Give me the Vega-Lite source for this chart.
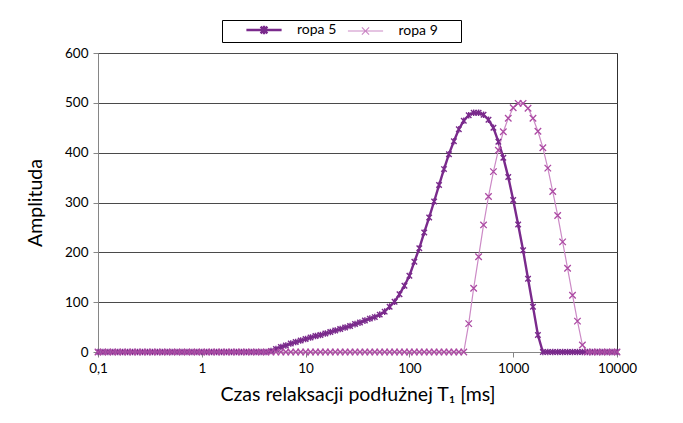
{
  "$schema": "https://vega.github.io/schema/vega-lite/v6.json",
  "width": 519,
  "height": 299,
  "autosize": {"type": "none"},
  "padding": {"left": 98, "top": 53, "right": 66, "bottom": 71},
  "background": "white",
  "config": {
    "font": "Lato",
    "view": {"stroke": "#303030", "strokeWidth": 1}
  },
  "data": {
    "values": [
      {"T": 0.1, "ropa 5": 0, "ropa 9": 0},
      {"T": 0.11159, "ropa 5": 0, "ropa 9": 0},
      {"T": 0.12452, "ropa 5": 0, "ropa 9": 0},
      {"T": 0.13895, "ropa 5": 0, "ropa 9": 0},
      {"T": 0.15505, "ropa 5": 0, "ropa 9": 0},
      {"T": 0.17302, "ropa 5": 0, "ropa 9": 0},
      {"T": 0.19307, "ropa 5": 0, "ropa 9": 0},
      {"T": 0.21544, "ropa 5": 0, "ropa 9": 0},
      {"T": 0.24041, "ropa 5": 0, "ropa 9": 0},
      {"T": 0.26827, "ropa 5": 0, "ropa 9": 0},
      {"T": 0.29936, "ropa 5": 0, "ropa 9": 0},
      {"T": 0.33405, "ropa 5": 0, "ropa 9": 0},
      {"T": 0.37276, "ropa 5": 0, "ropa 9": 0},
      {"T": 0.41596, "ropa 5": 0, "ropa 9": 0},
      {"T": 0.46416, "ropa 5": 0, "ropa 9": 0},
      {"T": 0.51795, "ropa 5": 0, "ropa 9": 0},
      {"T": 0.57797, "ropa 5": 0, "ropa 9": 0},
      {"T": 0.64495, "ropa 5": 0, "ropa 9": 0},
      {"T": 0.71969, "ropa 5": 0, "ropa 9": 0},
      {"T": 0.80309, "ropa 5": 0, "ropa 9": 0},
      {"T": 0.89615, "ropa 5": 0, "ropa 9": 0},
      {"T": 1, "ropa 5": 0, "ropa 9": 0},
      {"T": 1.1159, "ropa 5": 0, "ropa 9": 0},
      {"T": 1.2452, "ropa 5": 0, "ropa 9": 0},
      {"T": 1.3895, "ropa 5": 0, "ropa 9": 0},
      {"T": 1.5505, "ropa 5": 0, "ropa 9": 0},
      {"T": 1.7302, "ropa 5": 0, "ropa 9": 0},
      {"T": 1.9307, "ropa 5": 0, "ropa 9": 0},
      {"T": 2.1544, "ropa 5": 0, "ropa 9": 0},
      {"T": 2.4041, "ropa 5": 0, "ropa 9": 0},
      {"T": 2.6827, "ropa 5": 0, "ropa 9": 0},
      {"T": 2.9936, "ropa 5": 0, "ropa 9": 0},
      {"T": 3.3405, "ropa 5": 0, "ropa 9": 0},
      {"T": 3.7276, "ropa 5": 0, "ropa 9": 0},
      {"T": 4.1596, "ropa 5": 0, "ropa 9": 0},
      {"T": 4.6416, "ropa 5": 2, "ropa 9": 0},
      {"T": 5.1795, "ropa 5": 6, "ropa 9": 0},
      {"T": 5.7797, "ropa 5": 10, "ropa 9": 0},
      {"T": 6.4495, "ropa 5": 13, "ropa 9": 0},
      {"T": 7.1969, "ropa 5": 17, "ropa 9": 0},
      {"T": 8.0309, "ropa 5": 20, "ropa 9": 0},
      {"T": 8.9615, "ropa 5": 23, "ropa 9": 0},
      {"T": 10, "ropa 5": 26, "ropa 9": 0},
      {"T": 11.159, "ropa 5": 29, "ropa 9": 0},
      {"T": 12.452, "ropa 5": 32, "ropa 9": 0},
      {"T": 13.895, "ropa 5": 34, "ropa 9": 0},
      {"T": 15.505, "ropa 5": 37, "ropa 9": 0},
      {"T": 17.302, "ropa 5": 40, "ropa 9": 0},
      {"T": 19.307, "ropa 5": 43, "ropa 9": 0},
      {"T": 21.544, "ropa 5": 46, "ropa 9": 0},
      {"T": 24.041, "ropa 5": 49, "ropa 9": 0},
      {"T": 26.827, "ropa 5": 52, "ropa 9": 0},
      {"T": 29.936, "ropa 5": 56, "ropa 9": 0},
      {"T": 33.405, "ropa 5": 59, "ropa 9": 0},
      {"T": 37.276, "ropa 5": 63, "ropa 9": 0},
      {"T": 41.596, "ropa 5": 67, "ropa 9": 0},
      {"T": 46.416, "ropa 5": 70, "ropa 9": 0},
      {"T": 51.795, "ropa 5": 75, "ropa 9": 0},
      {"T": 57.797, "ropa 5": 81, "ropa 9": 0},
      {"T": 64.495, "ropa 5": 91, "ropa 9": 0},
      {"T": 71.969, "ropa 5": 101, "ropa 9": 0},
      {"T": 80.309, "ropa 5": 116, "ropa 9": 0},
      {"T": 89.615, "ropa 5": 133, "ropa 9": 0},
      {"T": 100, "ropa 5": 153, "ropa 9": 0},
      {"T": 111.59, "ropa 5": 181, "ropa 9": 0},
      {"T": 124.52, "ropa 5": 208, "ropa 9": 0},
      {"T": 138.95, "ropa 5": 240, "ropa 9": 0},
      {"T": 155.05, "ropa 5": 270, "ropa 9": 0},
      {"T": 173.02, "ropa 5": 302, "ropa 9": 0},
      {"T": 193.07, "ropa 5": 335, "ropa 9": 0},
      {"T": 215.44, "ropa 5": 367, "ropa 9": 0},
      {"T": 240.41, "ropa 5": 397, "ropa 9": 0},
      {"T": 268.27, "ropa 5": 423, "ropa 9": 0},
      {"T": 299.36, "ropa 5": 447, "ropa 9": 0},
      {"T": 334.05, "ropa 5": 464, "ropa 9": 0},
      {"T": 372.76, "ropa 5": 475, "ropa 9": 57},
      {"T": 415.96, "ropa 5": 480, "ropa 9": 128},
      {"T": 464.16, "ropa 5": 480, "ropa 9": 191},
      {"T": 517.95, "ropa 5": 476, "ropa 9": 255},
      {"T": 577.97, "ropa 5": 466, "ropa 9": 312},
      {"T": 644.95, "ropa 5": 450, "ropa 9": 362},
      {"T": 719.69, "ropa 5": 422, "ropa 9": 405},
      {"T": 803.09, "ropa 5": 390, "ropa 9": 442},
      {"T": 896.15, "ropa 5": 351, "ropa 9": 469},
      {"T": 1000, "ropa 5": 305, "ropa 9": 490},
      {"T": 1115.9, "ropa 5": 256, "ropa 9": 499},
      {"T": 1245.2, "ropa 5": 204, "ropa 9": 499},
      {"T": 1389.5, "ropa 5": 147, "ropa 9": 489},
      {"T": 1550.5, "ropa 5": 91, "ropa 9": 469},
      {"T": 1730.2, "ropa 5": 34, "ropa 9": 443},
      {"T": 1930.7, "ropa 5": 0, "ropa 9": 410},
      {"T": 2154.4, "ropa 5": 0, "ropa 9": 369},
      {"T": 2404.1, "ropa 5": 0, "ropa 9": 322},
      {"T": 2682.7, "ropa 5": 0, "ropa 9": 274},
      {"T": 2993.6, "ropa 5": 0, "ropa 9": 221},
      {"T": 3340.5, "ropa 5": 0, "ropa 9": 168},
      {"T": 3727.6, "ropa 5": 0, "ropa 9": 114},
      {"T": 4159.6, "ropa 5": 0, "ropa 9": 62},
      {"T": 4641.6, "ropa 5": 0, "ropa 9": 14},
      {"T": 5179.5, "ropa 5": 0, "ropa 9": 0},
      {"T": 5779.7, "ropa 5": 0, "ropa 9": 0},
      {"T": 6449.5, "ropa 5": 0, "ropa 9": 0},
      {"T": 7196.9, "ropa 5": 0, "ropa 9": 0},
      {"T": 8030.9, "ropa 5": 0, "ropa 9": 0},
      {"T": 8961.5, "ropa 5": 0, "ropa 9": 0},
      {"T": 10000, "ropa 5": 0, "ropa 9": 0}
    ]
  },
  "transform": [{"fold": ["ropa 5", "ropa 9"], "as": ["series", "amp"]}],
  "encoding": {
    "x": {
      "field": "T",
      "type": "quantitative",
      "scale": {"type": "log", "domain": [0.1, 10000]},
      "axis": {
        "values": [0.1, 1, 10, 100, 1000, 10000],
        "labelExpr": "replace(format(datum.value, '~g'), '.', ',')",
        "grid": false,
        "domainColor": "#868686",
        "tickColor": "#868686",
        "tickSize": 5,
        "labelPadding": 4,
        "labelFontSize": 13.5,
        "labelColor": "#000",
        "labelFlush": false,
        "title": "Czas relaksacji podłużnej T₁ [ms]",
        "titleFontSize": 19.5,
        "titleFontWeight": "normal",
        "titleColor": "#000",
        "titlePadding": 11
      }
    },
    "y": {
      "field": "amp",
      "type": "quantitative",
      "scale": {"domain": [0, 600], "nice": false},
      "axis": {
        "values": [0, 100, 200, 300, 400, 500, 600],
        "grid": true,
        "gridColor": "#4a4a4a",
        "gridOpacity": 1,
        "domainColor": "#868686",
        "tickColor": "#868686",
        "tickSize": 5,
        "labelPadding": 5,
        "labelFontSize": 13.5,
        "labelColor": "#000",
        "title": "Amplituda",
        "titleFontSize": 19.5,
        "titleFontWeight": "normal",
        "titleColor": "#000",
        "titlePadding": 19
      }
    }
  },
  "layer": [
    {
      "mark": {"type": "line", "clip": false},
      "encoding": {
        "color": {
          "field": "series",
          "type": "nominal",
          "scale": {"domain": ["ropa 5", "ropa 9"], "range": ["#7A2A8C", "#CC8AC6"]},
          "legend": {
            "orient": "none",
            "legendX": 124,
            "legendY": -33,
            "direction": "horizontal",
            "title": "\u00a0",
            "titleOrient": "left",
            "titleFontSize": 14,
            "titlePadding": 21,
            "strokeColor": "#000",
            "fillColor": "#fff",
            "padding": 3,
            "symbolType": "M-4.4,0L4.4,0",
            "symbolSize": 64,
            "symbolStrokeWidth": 2,
            "symbolOffset": 11,
            "labelOffset": 26,
            "columnPadding": 8.5,
            "labelFontSize": 14,
            "labelColor": "#000",
            "labelExpr": "datum.label === 'ropa 9' ? datum.label + '\u2800\u2800' : datum.label",
            "encode": {
              "symbols": {
                "update": {
                  "shape": {"signal": "datum.value === 'ropa 5' ? 'M-4.4,0L4.4,0M-0.85,-0.85L0.85,0.85M-0.85,0.85L0.85,-0.85M0,-1.05L0,1.05' : 'M-4.4,0L4.4,0M-0.9,-0.9L0.9,0.9M-0.9,0.9L0.9,-0.9'"},
                  "strokeWidth": {"signal": "datum.value === 'ropa 5' ? 2 : 1.3"}
                }
              }
            }
          }
        },
        "strokeWidth": {
          "field": "series",
          "type": "ordinal",
          "scale": {"domain": ["ropa 5", "ropa 9"], "range": [2.4, 1.2]},
          "legend": null
        }
      }
    },
    {
      "transform": [{"filter": "datum.series === 'ropa 5'"}],
      "mark": {"type": "point", "filled": false, "opacity": 1, "strokeWidth": 1.4, "clip": false, "stroke": "#7A2A8C", "shape": "M-1,-1L1,1M-1,1L1,-1M0,-1.2L0,1.2", "size": 30},
      "encoding": {}
    },
    {
      "transform": [{"filter": "datum.series === 'ropa 9'"}],
      "mark": {"type": "point", "filled": false, "opacity": 1, "strokeWidth": 1.3, "clip": false, "stroke": "#AC4AA3", "shape": "M-1,-1L1,1M-1,1L1,-1", "size": 42},
      "encoding": {}
    }
  ]
}
